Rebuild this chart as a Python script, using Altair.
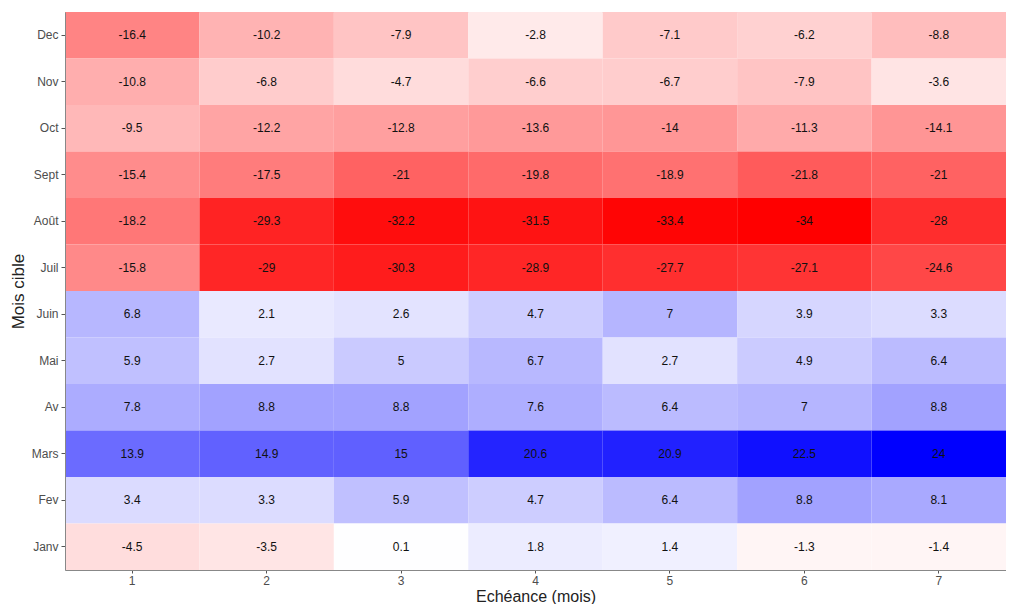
import altair as alt
import pandas as pd

months = ["Dec", "Nov", "Oct", "Sept", "Août", "Juil", "Juin", "Mai", "Av", "Mars", "Fev", "Janv"]
leads = [1, 2, 3, 4, 5, 6, 7]

dec = [-16.4, -10.2, -7.9, -2.8, -7.1, -6.2, -8.8]
nov = [-10.8, -6.8, -4.7, -6.6, -6.7, -7.9, -3.6]
oct_ = [-9.5, -12.2, -12.8, -13.6, -14, -11.3, -14.1]
sept = [-15.4, -17.5, -21, -19.8, -18.9, -21.8, -21]
aout = [-18.2, -29.3, -32.2, -31.5, -33.4, -34, -28]
juil = [-15.8, -29, -30.3, -28.9, -27.7, -27.1, -24.6]
juin = [6.8, 2.1, 2.6, 4.7, 7, 3.9, 3.3]
mai = [5.9, 2.7, 5, 6.7, 2.7, 4.9, 6.4]
av = [7.8, 8.8, 8.8, 7.6, 6.4, 7, 8.8]
mars = [13.9, 14.9, 15, 20.6, 20.9, 22.5, 24]
fev = [3.4, 3.3, 5.9, 4.7, 6.4, 8.8, 8.1]
janv = [-4.5, -3.5, 0.1, 1.8, 1.4, -1.3, -1.4]

rows_vals = [dec, nov, oct_, sept, aout, juil, juin, mai, av, mars, fev, janv]

records = []
for m, vals in zip(months, rows_vals):
    for l, v in zip(leads, vals):
        lab = str(int(v)) if float(v).is_integer() else str(v)
        records.append({"mois": m, "echeance": l, "val": v, "label": lab})
df = pd.DataFrame(records)

font = "Liberation Sans"

base = alt.Chart(df)

x = alt.X("echeance:O", title="Echéance (mois)",
          scale=alt.Scale(paddingInner=0, paddingOuter=0),
          axis=alt.Axis(labelAngle=0, labelFontSize=12, labelColor="#4d4d4d",
                        titleFontSize=16, titleFontWeight="normal", titleColor="#222",
                        tickColor="#555", tickSize=3, domainColor="#888",
                        labelFont=font, titleFont=font, titlePadding=2, labelPadding=2))
y = alt.Y("mois:O", title="Mois cible", sort=months,
          scale=alt.Scale(paddingInner=0, paddingOuter=0),
          axis=alt.Axis(labelFontSize=12, labelColor="#4d4d4d",
                        titleFontSize=17, titleFontWeight="normal", titleColor="#222",
                        tickColor="#555", tickSize=4, domainColor="#888",
                        labelFont=font, titleFont=font, titlePadding=4, labelPadding=3))

rect = base.mark_rect().encode(
    x=x, y=y,
    color=alt.Color("val:Q", legend=None,
                    scale=alt.Scale(domain=[-34, 0, 24], range=["#ff0000", "#ffffff", "#0000ff"],
                                    interpolate="rgb")),
)
text = base.mark_text(fontSize=12, font=font, color="#111").encode(
    x=x, y=y, text="label:N"
)

chart = (rect + text).properties(
    width=941, height=558,
    autosize=alt.AutoSizeParams(type="none"),
    padding={"left": 57, "top": 4, "right": 0, "bottom": 34},
).configure_view(stroke="#999", strokeWidth=1).configure(background="white")

chart.save("out.html", embed_options={"renderer": "svg", "actions": False})
